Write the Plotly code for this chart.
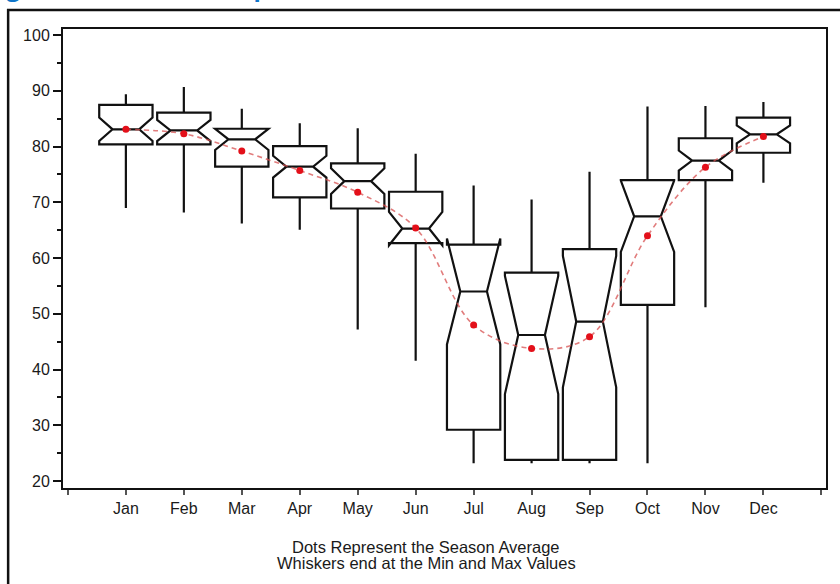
import plotly.graph_objects as go

# Monthly temperature distribution summary
months = ["Jan", "Feb", "Mar", "Apr", "May", "Jun",
          "Jul", "Aug", "Sep", "Oct", "Nov", "Dec"]
month_pos = [1, 2, 3, 4, 5, 6, 7, 8, 9, 10, 11, 12]
t_min = [69.0, 68.2, 66.2, 65.1, 47.2, 41.6, 23.2, 23.2, 23.2, 23.2, 51.2, 73.5]
t_q1 = [80.4, 80.4, 76.4, 70.9, 68.9, 62.7, 29.2, 23.8, 23.8, 51.6, 74.0, 78.9]
t_median = [83.1, 82.9, 81.3, 76.4, 73.8, 65.3, 54.0, 46.2, 48.6, 67.5, 77.5, 82.2]
t_q3 = [87.5, 86.1, 83.2, 80.1, 77.0, 71.9, 62.4, 57.4, 61.6, 74.0, 81.5, 85.2]
t_max = [89.4, 90.7, 86.8, 84.2, 83.3, 78.7, 73.0, 70.5, 75.5, 87.2, 87.3, 88.0]
t_notch = [2.1, 1.9, 1.9, 1.95, 2.3, 3.0, 9.5, 10.6, 11.8, 6.4, 1.8, 1.6]
t_mean = [83.1, 82.3, 79.2, 75.7, 71.8, 65.4, 48.0, 43.8, 45.9, 64.0, 76.3, 81.8]

y_ticks = [20, 30, 40, 50, 60, 70, 80, 90, 100]
x_ticks = list(range(0, 14))
x_labels = [""] + months + [""]

FONT = "Liberation Sans, Arial, sans-serif"

fig = go.Figure()

fig.add_trace(go.Box(
    x=month_pos,
    q1=t_q1, median=t_median, q3=t_q3,
    lowerfence=t_min, upperfence=t_max,
    notchspan=t_notch, notched=True, notchwidth=0.25,
    width=0.92, whiskerwidth=0,
    line=dict(color="#111111", width=2.2),
    fillcolor="rgba(255,255,255,0)",
    boxpoints=False, showlegend=False, hoverinfo="skip",
))

fig.add_trace(go.Scatter(
    x=month_pos, y=t_mean, mode="lines+markers",
    line=dict(color="rgba(215,80,80,0.75)", width=1.6, dash="5px,4px",
              shape="spline", smoothing=1.0),
    marker=dict(color="#e3101a", size=7),
    showlegend=False, hoverinfo="skip",
))

fig.update_xaxes(
    range=[-0.085, 13.08], tickmode="array", tickvals=x_ticks, ticktext=x_labels,
    ticks="outside", ticklen=5, tickwidth=1.5, tickcolor="#555555",
    showline=True, linewidth=2, linecolor="#111111", mirror=True,
    showgrid=False, zeroline=False,
    tickfont=dict(family=FONT, size=16, color="#1a1a1a"),
)
fig.update_yaxes(
    range=[18.75, 101.1], tickmode="array", tickvals=y_ticks,
    ticks="outside", ticklen=8, tickwidth=2, tickcolor="#111111",
    minor=dict(tickmode="linear", tick0=15, dtick=10, ticks="outside",
               ticklen=4, tickwidth=2, tickcolor="#111111", showgrid=False),
    showline=True, linewidth=2, linecolor="#111111", mirror=True,
    showgrid=False, zeroline=False,
    tickfont=dict(family=FONT, size=16, color="#1a1a1a"),
)

fig.update_layout(
    width=840, height=584,
    margin=dict(l=63, r=12, t=29, b=96),
    paper_bgcolor="white", plot_bgcolor="white",
    annotations=[
        dict(text="Dots Represent the Season Average", xref="paper", yref="paper",
             x=0.4758, y=-0.1285, xanchor="center", yanchor="middle", showarrow=False,
             font=dict(family=FONT, size=16.5, color="#1a1a1a")),
        dict(text="Whiskers end at the Min and Max Values", xref="paper", yref="paper",
             x=0.4758, y=-0.1625, xanchor="center", yanchor="middle", showarrow=False,
             font=dict(family=FONT, size=16.5, color="#1a1a1a")),
        dict(text="<b>Figure 3: Notched Box plot</b>", xref="paper", yref="paper",
             x=-0.1033, y=1.052, xanchor="left", yanchor="bottom", showarrow=False,
             font=dict(family="Open Sans, sans-serif", size=24, color="#0f75c9")),
    ],
    shapes=[
        dict(type="path", xref="paper", yref="paper",
             path="M -0.0719,-0.3 L -0.0719,1.0414 L 1.1,1.0414",
             line=dict(color="#111111", width=2.5)),
    ],
)

fig.write_html("out.html")
